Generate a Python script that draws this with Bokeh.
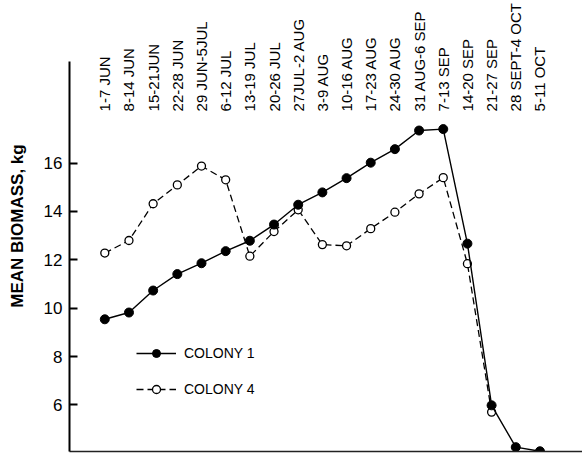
import math
import numpy as np
from bokeh.plotting import figure
from bokeh.models import Range1d, FixedTicker, LinearAxis, Legend, LegendItem
from bokeh.core.properties import value
from bokeh.embed import file_html
from bokeh.resources import INLINE

nan = float("nan")

weeks = ["1-7 JUN", "8-14 JUN", "15-21JUN", "22-28 JUN", "29 JUN-5JUL",
         "6-12 JUL", "13-19 JUL", "20-26 JUL", "27JUL-2 AUG", "3-9 AUG",
         "10-16 AUG", "17-23 AUG", "24-30 AUG", "31 AUG-6 SEP", "7-13 SEP",
         "14-20 SEP", "21-27 SEP", "28 SEPT-4 OCT", "5-11 OCT"]
colony1 = [9.54, 9.82, 10.73, 11.41, 11.86, 12.36, 12.79, 13.46, 14.28, 14.79,
           15.38, 16.02, 16.58, 17.35, 17.41, 12.67, 5.98, 4.25, 4.08]
colony4 = [12.28, 12.80, 14.32, 15.10, 15.88, 15.31, 12.15, 13.17, 14.07, 12.63,
           12.58, 13.29, 13.97, 14.73, 15.40, 11.84, 5.70, nan, nan]
y_ticks = [6, 8, 10, 12, 14, 16]
series_names = ["COLONY 1", "COLONY 4"]
y_title = "MEAN BIOMASS, kg"

x = np.arange(len(weeks))
FONT = "Liberation Sans"

p = figure(width=582, height=453, output_backend="svg", toolbar_location=None,
           x_range=Range1d(-1.46, 19.76), y_range=Range1d(4.07, 22.73),
           x_axis_location=None, y_axis_location=None,
           min_border_left=69, min_border_right=0, min_border_top=0,
           min_border_bottom=2, outline_line_color=None,
           background_fill_color="white", border_fill_color="white")
p.grid.grid_line_color = None

yaxis = LinearAxis(ticker=FixedTicker(ticks=y_ticks), bounds=(4.07, 20.2),
                   axis_label=y_title)
yaxis.axis_line_width = 2
yaxis.axis_line_color = "black"
yaxis.major_tick_in = 8
yaxis.major_tick_out = 0
yaxis.major_tick_line_width = 2
yaxis.minor_tick_line_color = None
yaxis.major_label_standoff = 7
yaxis.major_label_text_font = FONT
yaxis.major_label_text_font_size = "17px"
yaxis.major_label_text_color = "black"
yaxis.axis_label_text_font = FONT
yaxis.axis_label_text_font_size = "17px"
yaxis.axis_label_text_font_style = "bold"
yaxis.axis_label_text_color = "black"
yaxis.axis_label_standoff = 14
p.add_layout(yaxis, "left")

xaxis = LinearAxis(ticker=FixedTicker(ticks=[]))
xaxis.axis_line_width = 1.5
xaxis.axis_line_color = "#222222"
xaxis.major_tick_in = 0
xaxis.major_tick_out = 0
xaxis.minor_tick_line_color = None
xaxis.major_label_standoff = 0
xaxis.major_label_text_font_size = "0px"
p.add_layout(xaxis, "below")

# week labels at top, vertical
p.text(x=x, y=18.14, text=weeks, angle=math.pi / 2,
       text_align="left", text_baseline="middle",
       text_font=value(FONT), text_font_size="15px", text_color="black")

r4_line = p.line(x, colony4, line_color="black", line_width=1.3, line_dash="7 4")
r4_pts = p.scatter(x, colony4, marker="circle", size=8, fill_color="white",
                   line_color="black", line_width=1.3)
r1_line = p.line(x, colony1, line_color="black", line_width=1.4)
r1_pts = p.scatter(x, colony1, marker="circle", size=9, fill_color="black",
                   line_color="black")

legend = Legend(items=[LegendItem(label=series_names[0], renderers=[r1_line, r1_pts]),
                       LegendItem(label=series_names[1], renderers=[r4_line, r4_pts])],
                location=(67, 52), glyph_width=40, glyph_height=20,
                label_height=20, spacing=16, padding=0, margin=0,
                border_line_color=None, background_fill_alpha=0,
                label_text_font=FONT, label_text_font_size="14px",
                label_standoff=8, label_text_color="black")
p.add_layout(legend)

open("out.html", "w").write(file_html(p, INLINE))
